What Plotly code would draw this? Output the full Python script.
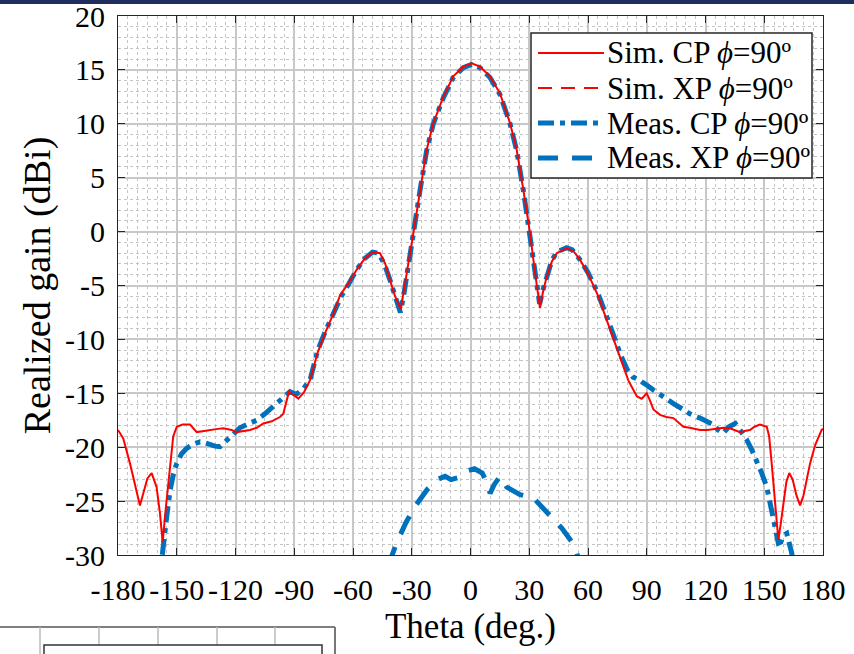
import plotly.graph_objects as go

# ---------------- data ----------------
sim_cp_theta = [-180, -177.3, -173.9, -170.5, -168.8, -167.1, -165, -162.8, -160.3, -158.6, -157.2, -155.5,
                -153.4, -151.8, -150, -147, -143.2, -139.8, -136, -133, -129, -126.2, -122, -119.4, -116,
                -112.6, -109.2, -105.8, -101.5, -97.3, -95.6, -92.7, -90, -87.9, -85, -82, -78, -74, -70,
                -66.6, -62, -58, -54, -49.8, -46.2, -43.5, -41.1, -38.5, -35.6, -34, -32.6, -29.2, -25.8,
                -22.4, -19, -13.9, -8.8, -3.7, 0.6, 4.85, 9.95, 15.1, 20.2, 23.6, 27, 30.4, 33, 35.5, 37,
                38.9, 41.5, 44, 49.1, 52.5, 55.9, 60, 65, 70, 75, 78, 80.6, 83.2, 85, 87.4, 90, 91.5, 93.4,
                96.8, 100, 103.6, 106, 108.7, 112, 117.2, 121, 125.7, 129, 132.5, 135, 137.6, 140, 142.7,
                145, 147.8, 151.3, 152.5, 153.8, 155.5, 157.2, 158.5, 159.8, 161.3, 162.8, 164.5, 166.5,
                168.3, 170, 171.7, 173.4, 176, 179.3, 180]
sim_cp_gain = [-18.4, -19.2, -21.5, -24.3, -25.4, -24.3, -22.9, -22.4, -23.7, -26.1, -28.8, -25.5,
               -21.5, -19.0, -18.1, -17.9, -17.9, -18.6, -18.5, -18.4, -18.3, -18.25, -18.4, -18.6, -18.5,
               -18.4, -18.2, -17.8, -17.6, -17.2, -16.9, -14.85, -15.2, -15.5, -14.9, -13.8, -11.2, -9.3,
               -7.6, -5.9, -4.7, -3.5, -2.5, -1.9, -2.0, -3.0, -4.5, -6.0, -7.2, -5.6, -3.9, -0.16, 3.86,
               7.57, 10.05, 12.5, 14.4, 15.3, 15.6, 15.3, 14.4, 12.8, 10.05, 7.57, 3.86, -0.16, -3.87,
               -7.1, -5.6, -4.2, -2.8, -2.0, -1.55, -1.8, -2.6, -3.9, -5.9, -8.4, -11.0, -12.6, -13.8,
               -14.7, -15.3, -15.5, -15.0, -15.6, -16.5, -17.0, -17.2, -17.3, -17.7, -18.1, -18.2, -18.4,
               -18.4, -18.3, -18.2, -18.25, -18.4, -18.6, -18.5, -18.4, -18.1, -17.9, -18.1, -19.0, -21.5,
               -25.0, -28.6, -27.0, -25.2, -23.2, -22.4, -23.0, -24.5, -25.4, -24.5, -23.0, -21.5, -19.8,
               -18.4, -18.3]

meas_cp_theta = [-160, -157.7, -155.5, -153.4, -151.7, -150, -147.5, -144.9, -141.5, -138.1, -135.5, -133,
                 -130.5, -127.9, -125.3, -122.8, -120, -117.7, -113, -109.2, -105, -100.7, -96.5, -92.2,
                 -89, -85.5, -82, -78, -74, -70, -66, -62, -58, -54, -50, -47, -44, -41.1, -38.5, -35.8,
                 -34, -32.6, -29.2, -25.8, -22.4, -19, -13.9, -8.8, -3.7, 0.6, 4.85, 9.95, 15.1, 20.2,
                 23.6, 27, 30.4, 33, 35.3, 37, 38.9, 41.5, 44, 49.1, 52, 55.9, 60, 65, 70, 74, 77, 80, 83,
                 85.5, 88.2, 90.5, 93.4, 96.5, 100.2, 104, 108.7, 112, 117.2, 120.5, 124, 126.5, 129.1, 132,
                 135.2, 138, 141, 143.5, 146.1, 148.7, 151.3, 153, 154.6, 156, 157.2, 158.5, 159.8, 161.5,
                 162.8, 164, 165.5]
meas_cp_gain = [-33, -30.5, -27, -24, -22.5, -21.5, -20.6, -20.1, -19.7, -19.5, -19.6, -19.8,
                -19.9, -19.95, -19.5, -19.0, -18.6, -18.2, -17.8, -17.5, -16.9, -16.25, -15.6, -14.85,
                -15.1, -14.6, -13.8, -11.0, -9.2, -7.6, -6.0, -4.8, -3.5, -2.5, -1.9, -2.0, -3.0, -4.5,
                -6.1, -7.5, -5.8, -4.0, -0.2, 3.8, 7.5, 10.0, 12.4, 14.3, 15.2, 15.5, 15.2, 14.3, 12.7,
                10.0, 7.5, 3.8, -0.2, -3.7, -6.7, -5.4, -4.1, -2.7, -1.9, -1.5, -1.7, -2.6, -3.8, -5.7,
                -8.1, -10.2, -11.6, -12.8, -13.5, -13.7, -14.1, -14.3, -14.7, -15.1, -15.6, -16.0, -16.5,
                -16.9, -17.3, -17.6, -17.9, -18.4, -18.7, -18.1, -17.8, -18.5, -19.3, -20.2, -21.2, -22.4,
                -23.7, -25.2, -26.8, -28.0, -28.9, -28.8, -28.2, -28.0, -28.8, -29.8, -31.5]

meas_xp_theta = [-42, -38, -33, -28, -22, -17, -13, -10, -6, -2, 2, 6, 9, 10, 12, 15.1, 18.5, 25.3, 32.1,
                 40.6, 46.6, 53.4, 56]
meas_xp_gain = [-31, -29, -27, -25.4, -23.9, -23.0, -22.7, -23.0, -22.8, -22.2, -22.0, -22.4, -23.5,
                -24.3, -23.5, -22.7, -23.7, -24.4, -24.7, -26.3, -27.5, -29.2, -31]

legend_names = ["Sim. CP <i>ϕ</i>=90º", "Sim. XP <i>ϕ</i>=90º",
                "Meas. CP <i>ϕ</i>=90º", "Meas. XP <i>ϕ</i>=90º"]
x_ticks = [-180, -150, -120, -90, -60, -30, 0, 30, 60, 90, 120, 150, 180]
x_tick_text = ["-180", "-150", "-120", "-90", "-60", "-30", "0", "30", "60", "90", "120", "150", "180"]
y_ticks = [20, 15, 10, 5, 0, -5, -10, -15, -20, -25, -30]
y_tick_text = ["20", "15", "10", "5", "0", "-5", "-10", "-15", "-20", "-25", "-30"]

# ---------------- styling ----------------
RED = "#ff0000"
BLUE = "#0072bd"
FONT = "Liberation Serif"
W, H = 854, 654
L, R, T, B = 118, 31, 16, 99
PW, PH = W - L - R, H - T - B


def px(xp):
    return (xp - L) / PW


def py(yp):
    return 1 - (yp - T) / PH


styles = [
    dict(color=RED, width=2, dash="solid"),
    dict(color=RED, width=2, dash="14px,9px"),
    dict(color=BLUE, width=5, dash="16px,6px,5px,6px"),
    dict(color=BLUE, width=5, dash="20px,14px"),
]

fig = go.Figure()
fig.add_trace(go.Scatter(x=meas_xp_theta, y=meas_xp_gain, mode="lines", line=styles[3],
                         name=legend_names[3], showlegend=False))
fig.add_trace(go.Scatter(x=meas_cp_theta, y=meas_cp_gain, mode="lines", line=styles[2],
                         name=legend_names[2], showlegend=False))
fig.add_trace(go.Scatter(x=sim_cp_theta, y=sim_cp_gain, mode="lines", line=styles[0],
                         name=legend_names[0], showlegend=False))

axis_common = dict(
    showline=True, linecolor="#262626", linewidth=1, mirror="ticks",
    ticks="inside", ticklen=7, tickcolor="#262626",
    showgrid=True, gridcolor="#c8c8c8", gridwidth=2,
    zeroline=False, automargin=False, tickangle=0,
    tickfont=dict(family=FONT, size=30, color="black"),
)

fig.update_xaxes(range=[-180, 180], tickvals=x_ticks, ticktext=x_tick_text, **axis_common,
                 minor=dict(dtick=5, tick0=-180, showgrid=True, gridcolor="#c4c4c4",
                            griddash="dot", gridwidth=1),
                 ticklabelstandoff=8,
                 title=dict(text="Theta (deg.)", font=dict(family=FONT, size=35, color="black"),
                            standoff=8))
fig.update_yaxes(range=[-30, 20], tickvals=y_ticks, ticktext=y_tick_text, **axis_common,
                 minor=dict(dtick=1, tick0=0, showgrid=True, gridcolor="#c4c4c4",
                            griddash="dot", gridwidth=1),
                 ticklabelstandoff=6,
                 title=dict(text="Realized gain (dBi)", font=dict(family=FONT, size=38, color="black"),
                            standoff=2))

shapes = []
annotations = []
# custom legend box
lx0, lx1, ly0, ly1 = 531, 812, 33, 178
shapes.append(dict(type="rect", xref="paper", yref="paper", x0=px(lx0), x1=px(lx1),
                   y0=py(ly1), y1=py(ly0), line=dict(color="#262626", width=1.5),
                   fillcolor="white", layer="above"))
for i, name in enumerate(legend_names):
    yy = 53 + i * 35
    st = styles[i]
    shapes.append(dict(type="line", xref="paper", yref="paper", x0=px(538), x1=px(604),
                       y0=py(yy), y1=py(yy), line=dict(color=st["color"], width=st["width"],
                                                        dash=st["dash"]), layer="above"))
    annotations.append(dict(text=name, xref="paper", yref="paper", x=px(605), y=py(yy),
                            xanchor="left", yanchor="middle", showarrow=False,
                            font=dict(family=FONT, size=31, color="black")))

# dark band at the very top of the page
shapes.append(dict(type="rect", xref="paper", yref="paper", x0=px(0), x1=px(W),
                   y0=py(4), y1=py(0), line=dict(width=0), fillcolor="#1f2d5e", layer="above"))
# fragment of a neighbouring chart at the bottom-left
shapes.append(dict(type="line", xref="paper", yref="paper", x0=px(0), x1=px(335),
                   y0=py(627), y1=py(627), line=dict(color="#555555", width=1.5)))
shapes.append(dict(type="line", xref="paper", yref="paper", x0=px(335), x1=px(335),
                   y0=py(627), y1=py(660), line=dict(color="#777777", width=2)))
for gx in [40, 99, 158, 217, 275]:
    shapes.append(dict(type="line", xref="paper", yref="paper", x0=px(gx), x1=px(gx),
                       y0=py(627), y1=py(660), line=dict(color="#bbbbbb", width=1.5)))
shapes.append(dict(type="rect", xref="paper", yref="paper", x0=px(44), x1=px(322),
                   y0=py(670), y1=py(645), line=dict(color="#333333", width=1.5),
                   fillcolor="white"))

fig.update_layout(
    width=W, height=H,
    margin=dict(l=L, r=R, t=T, b=B),
    paper_bgcolor="white", plot_bgcolor="white",
    font=dict(family=FONT, color="black"),
    showlegend=False,
    shapes=shapes, annotations=annotations,
)

fig.write_html("out.html", config={"displayModeBar": False},
               post_script="document.body.style.margin='0px';")
